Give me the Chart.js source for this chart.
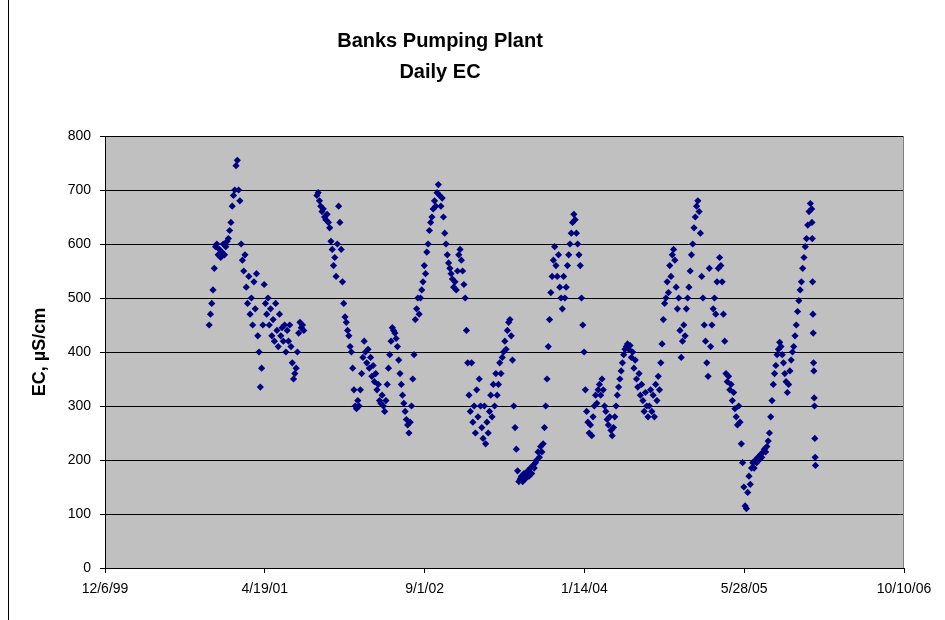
<!DOCTYPE html>
<html>
<head>
<meta charset="utf-8">
<script src="https://cdn.jsdelivr.net/npm/chart.js@4.4.1/dist/chart.umd.min.js"></script>
<style>
  html, body { margin: 0; padding: 0; background: #fff; }
  #wrap { width: 945px; height: 620px; position: relative; }
</style>
</head>
<body>
<div id="wrap"><canvas id="chart" width="945" height="620"></canvas></div>
<script>
  // x values are Excel day serials (36500 = 12/6/99), as in the source sheet
  var titleLines = ["Banks Pumping Plant", "Daily EC"];
  var yTitle = "EC, \u00b5S/cm";
  var xTicks = [36500, 37000, 37500, 38000, 38500, 39000];
  var yTicks = [0, 100, 200, 300, 400, 500, 600, 700, 800];

  // readings every 4 days (last burst daily), one list per run of data
  var segStart = [36826, 37163, 38711];
  var segStep = [4, 4, 1];

  var ec2000 = [450, 470, 490, 515, 555, 595, 600, 580, 590, 575, 585, 600, 580, 595, 605, 610,
    625, 640, 670, 690, 700, 745, 755, 700, 680, 600, 570, 550, 580, 520, 490, 540, 470, 500,
    450, 530, 480, 545, 430, 400, 335, 370, 450, 525, 490, 470, 500, 450, 480, 430, 460, 420,
    490, 440, 410, 470, 430, 445, 420, 450, 400, 440, 420, 450, 410, 380, 350, 360, 370, 400,
    435, 455, 445, 450, 440];

  var ec2001 = [
    690, 695, 680, 670, 660, 665, 650, 645, 655, 640,
    630, 605, 590, 560, 575, 540, 600, 670, 640, 590,
    530, 490, 465, 455, 440, 430, 410, 400, 370, 330,
    300, 295, 310, 300, 330, 360, 390, 420, 400, 380,
    405, 370, 390, 355, 375, 345, 360, 330, 340, 310,
    305, 320, 300, 290, 310, 340, 370, 395, 420, 445,
    440, 435, 425, 410, 385, 360, 340, 320, 305, 290,
    275, 265, 250, 270, 300, 350, 395, 460, 480, 500,
    470, 500, 515, 530, 560, 545, 585, 600, 625, 640,
    650, 665, 680, 670, 695, 710, 690, 670, 685, 650,
    620, 600, 580, 565, 555, 545, 535, 520, 530, 515,
    550, 580, 590, 570, 550, 525, 500, 440, 380, 320,
    290, 380, 270, 300, 250, 330, 280, 350, 300, 260,
    240, 300, 230, 270, 250, 290, 320, 280, 340, 300,
    360, 320, 340, 380, 360, 390, 400, 420, 405, 440,
    455, 460, 430, 385, 300, 260, 220, 180, 160, 165,
    170, 160, 175, 165, 170, 180, 170, 185, 175, 190,
    185, 195, 200, 215, 205, 225, 215, 230, 260, 300,
    350, 410, 460, 510, 540, 570, 595, 560, 540, 580,
    520, 500, 480, 540, 500, 520, 560, 580, 600, 620,
    640, 655, 645, 620, 600, 580, 560, 500, 450, 400,
    330, 290, 270, 250, 265, 245, 280, 300, 320, 305,
    330, 340, 320, 350, 330, 300, 290, 275, 265, 280,
    255, 245, 260, 280, 300, 320, 335, 350, 365, 380,
    395, 405, 410, 415, 405, 412, 390, 400, 370, 385,
    350, 335, 360, 320, 340, 310, 290, 325, 300, 280,
    300, 330, 290, 320, 280, 340, 310, 355, 330, 380,
    415, 460, 490, 500, 530, 510, 560, 540, 580, 590,
    570, 520, 480, 500, 440, 390, 420, 450, 430, 480,
    500, 520, 550, 580, 600, 630, 650, 670, 680, 660,
    620, 540, 500, 450, 420, 380, 355, 555, 410, 450,
    480, 500, 470, 530, 555, 575, 560, 530, 470, 420,
    360, 345, 355, 330, 340, 310, 325, 295, 280, 265,
    300, 270, 230, 195, 150, 115, 110, 140, 170, 155,
    185, 195, 185, 200, 195, 205, 200, 210, 205, 215,
    220, 215, 225, 235, 250, 280, 310, 340, 360, 375,
    395, 405, 418, 410, 395, 380, 360, 345, 325, 340,
    365, 385, 400, 410, 430, 450, 475, 495, 515, 530,
    555, 575, 595, 610, 635, 660, 675];

  var ec2006 = [665, 640, 610, 530, 470, 435, 380, 365, 315, 300, 240, 205, 190];

  var segValues = [ec2000, ec2001, ec2006];

  var points = [];
  segValues.forEach(function(vals, s) {
    vals.forEach(function(v, i) {
      points.push({ x: segStart[s] + i * segStep[s], y: v });
    });
  });

  var fontFamily = "'Liberation Sans', Arial, sans-serif";

  function serialToLabel(v) {
    var d = new Date(Date.UTC(1899, 11, 30) + v * 86400000);
    var yy = String(d.getUTCFullYear() % 100);
    if (yy.length < 2) yy = "0" + yy;
    return (d.getUTCMonth() + 1) + "/" + d.getUTCDate() + "/" + yy;
  }

  var excelLook = {
    id: "excelLook",
    beforeDraw: function(chart) {
      var ctx = chart.ctx, a = chart.chartArea;
      ctx.save();
      ctx.fillStyle = "#ffffff";
      ctx.fillRect(0, 0, chart.width, chart.height);
      ctx.fillStyle = "#c0c0c0";
      ctx.fillRect(a.left, a.top, a.right - a.left, a.bottom - a.top);
      ctx.restore();
    },
    afterDraw: function(chart) {
      var ctx = chart.ctx, a = chart.chartArea;
      ctx.save();
      // chart area border (left edge shows in the shot)
      ctx.strokeStyle = "#000000";
      ctx.lineWidth = 1;
      ctx.beginPath();
      ctx.moveTo(8.5, 0);
      ctx.lineTo(8.5, chart.height);
      ctx.stroke();
      // right edge of plot area
      ctx.strokeStyle = "#808080";
      ctx.beginPath();
      ctx.moveTo(a.right - 0.5, a.top);
      ctx.lineTo(a.right - 0.5, a.bottom);
      ctx.stroke();
      // title
      ctx.fillStyle = "#000000";
      ctx.font = "bold 20px " + fontFamily;
      ctx.textAlign = "center";
      ctx.textBaseline = "middle";
      ctx.fillText(titleLines[0], 440, 41);
      ctx.fillText(titleLines[1], 440, 72);
      ctx.restore();
    }
  };

  var chart = new Chart(document.getElementById("chart"), {
    type: "scatter",
    data: {
      datasets: [{
        label: "Daily EC",
        data: points,
        pointStyle: "rectRot",
        pointRadius: 3.6,
        pointBorderWidth: 0,
        backgroundColor: "#000080",
        borderColor: "#000080"
      }]
    },
    options: {
      responsive: false,
      animation: false,
      devicePixelRatio: 1,
      layout: { padding: { left: 29, right: 41, top: 136, bottom: 0 } },
      plugins: {
        legend: { display: false },
        tooltip: { enabled: false },
        title: { display: false }
      },
      scales: {
        x: {
          type: "linear",
          min: xTicks[0],
          max: xTicks[xTicks.length - 1],
          afterBuildTicks: function(scale) {
            scale.ticks = xTicks.map(function(v) { return { value: v }; });
          },
          afterFit: function(scale) {
            scale.height = 52;
            scale.paddingLeft = 0;
            scale.paddingRight = 0;
          },
          grid: { drawOnChartArea: false, drawTicks: true, tickLength: 5, color: "#000000" },
          border: { display: true, color: "#000000", width: 1 },
          ticks: {
            padding: 8,
            maxRotation: 0,
            autoSkip: false,
            color: "#000000",
            font: { family: fontFamily, size: 14 },
            callback: function(v) { return serialToLabel(v); }
          }
        },
        y: {
          min: yTicks[0],
          max: yTicks[yTicks.length - 1],
          afterBuildTicks: function(scale) {
            scale.ticks = yTicks.map(function(v) { return { value: v }; });
          },
          afterFit: function(scale) {
            scale.width = 76;
            scale.paddingTop = 0;
            scale.paddingBottom = 0;
          },
          grid: { color: "#000000", drawTicks: true, tickLength: 5, lineWidth: 1 },
          border: { display: true, color: "#000000", width: 1 },
          title: {
            display: true,
            text: yTitle,
            color: "#000000",
            padding: { top: 0, bottom: 0 },
            font: { family: fontFamily, size: 18, weight: "bold" }
          },
          ticks: {
            padding: 9,
            color: "#000000",
            font: { family: fontFamily, size: 14 }
          }
        }
      }
    },
    plugins: [excelLook]
  });
</script>
</body>
</html>
